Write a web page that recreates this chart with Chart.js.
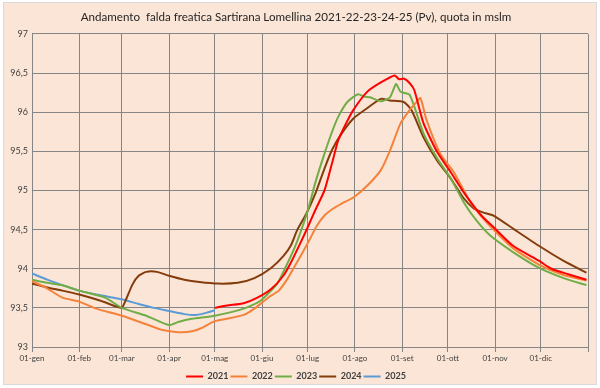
<!DOCTYPE html>
<html>
<head>
<meta charset="utf-8">
<script src="https://cdn.jsdelivr.net/npm/chart.js"></script>
<style>
  html, body { margin: 0; padding: 0; background: #ffffff; }
  #frame {
    position: absolute; left: 3px; top: 2px; width: 592px; height: 381px;
    background: #FBE5D6; border: 1px solid #D9D9D9;
  }
  #wrap { position: absolute; left: 0; top: 0; width: 600px; height: 388px; }
</style>
</head>
<body>
<div id="frame"></div>
<div id="wrap"><canvas id="chart"></canvas></div>
<script>
// month starts (day of year) and their labels
const monthDays = [0, 31, 59, 90, 120, 151, 181, 212, 243, 273, 304, 334, 365];
const monthLabels = ['01-gen', '01-feb', '01-mar', '01-apr', '01-mag', '01-giu',
                     '01-lug', '01-ago', '01-set', '01-ott', '01-nov', '01-dic', ''];
const yTicks = [93, 93.5, 94, 94.5, 95, 95.5, 96, 96.5, 97];

// 2021 (starts in May)
const days2021 = [120, 128, 139, 148, 157, 165, 170, 176, 181, 186, 192, 197, 201, 206, 211, 220, 229, 238, 241, 244, 248, 251, 257, 266, 275, 284, 295, 303, 316, 333, 341, 352, 364];
const vals2021 = [93.50, 93.53, 93.56, 93.63, 93.74, 93.91, 94.08, 94.32, 94.53, 94.75, 95.00, 95.35, 95.64, 95.85, 96.03, 96.26, 96.38, 96.47, 96.42, 96.43, 96.37, 96.28, 95.86, 95.49, 95.23, 94.96, 94.68, 94.53, 94.29, 94.10, 94.00, 93.93, 93.86];

// 2022
const days2022 = [0, 9, 20, 31, 42, 59, 75, 85, 96, 105, 111, 120, 128, 139, 146, 155, 162, 168, 173, 178, 183, 187, 192, 197, 203, 211, 220, 229, 235, 242, 248, 252, 255, 259, 268, 277, 286, 292, 301, 316, 333, 349, 364];
const vals2022 = [93.84, 93.76, 93.63, 93.58, 93.49, 93.40, 93.29, 93.22, 93.19, 93.20, 93.24, 93.33, 93.36, 93.41, 93.49, 93.63, 93.72, 93.88, 94.05, 94.22, 94.40, 94.55, 94.68, 94.76, 94.83, 94.91, 95.06, 95.26, 95.51, 95.86, 96.03, 96.12, 96.18, 95.90, 95.47, 95.23, 94.91, 94.74, 94.54, 94.26, 94.05, 93.92, 93.85];

// 2023
const days2023 = [0, 10, 20, 31, 48, 59, 75, 90, 96, 105, 120, 139, 150, 161, 166, 172, 176, 181, 186, 192, 197, 201, 207, 214, 218, 222, 229, 235, 239, 242, 248, 257, 266, 275, 284, 292, 301, 316, 333, 349, 364];
const vals2023 = [93.86, 93.82, 93.79, 93.72, 93.63, 93.50, 93.40, 93.28, 93.32, 93.36, 93.40, 93.49, 93.59, 93.81, 94.00, 94.25, 94.45, 94.74, 95.10, 95.47, 95.75, 95.94, 96.13, 96.23, 96.20, 96.19, 96.14, 96.19, 96.36, 96.26, 96.22, 95.73, 95.41, 95.15, 94.83, 94.61, 94.42, 94.21, 94.01, 93.88, 93.79];

// 2024
const days2024 = [0, 10, 20, 31, 45, 55, 59, 62, 66, 70, 75, 82, 90, 100, 110, 122, 135, 146, 157, 165, 170, 174, 180, 186, 192, 197, 203, 211, 220, 229, 235, 244, 249, 257, 266, 275, 283, 290, 296, 303, 316, 333, 349, 364];
const vals2024 = [93.81, 93.76, 93.72, 93.67, 93.59, 93.52, 93.50, 93.62, 93.80, 93.91, 93.96, 93.96, 93.91, 93.86, 93.83, 93.81, 93.82, 93.88, 94.01, 94.16, 94.30, 94.49, 94.70, 94.96, 95.28, 95.52, 95.72, 95.92, 96.05, 96.17, 96.15, 96.13, 96.03, 95.68, 95.38, 95.15, 94.91, 94.77, 94.72, 94.68, 94.51, 94.29, 94.10, 93.95];

// 2025 (up to early May)
const days2025 = [0, 10, 20, 31, 45, 59, 70, 80, 90, 100, 108, 115, 120];
const vals2025 = [93.94, 93.86, 93.79, 93.72, 93.66, 93.61, 93.55, 93.50, 93.46, 93.42, 93.41, 93.44, 93.47];

const seriesNames = ['2021', '2022', '2023', '2024', '2025'];
const seriesColors = ['#FF0000', '#F4823A', '#70AD47', '#843C0C', '#5B9BD5'];
const seriesDays = [days2021, days2022, days2023, days2024, days2025];
const seriesVals = [vals2021, vals2022, vals2023, vals2024, vals2025];

const datasets = seriesNames.map((name, i) => ({
    label: name,
    data: seriesDays[i].map((d, j) => ({ x: d, y: seriesVals[i][j] })),
    borderColor: seriesColors[i],
    backgroundColor: seriesColors[i],
    borderWidth: 2,
    pointRadius: 0,
    tension: 0.2,
}));

const gridColor = '#858585';

new Chart(document.getElementById('chart'), {
    type: 'line',
    data: { datasets: datasets },
    options: {
        responsive: true,
        maintainAspectRatio: false,
        animation: false,
        layout: { padding: { left: 4, right: 12, top: 0, bottom: -3 } },
        scales: {
            x: {
                type: 'linear',
                min: 0,
                max: 365,
                afterBuildTicks: (axis) => {
                    axis.ticks = monthDays.map(v => ({ value: v }));
                },
                afterFit: (axis) => { axis.height = 23; },
                ticks: {
                    autoSkip: false,
                    maxRotation: 0,
                    color: '#404040',
                    font: { family: 'Lato', size: 8 },
                    padding: 2,
                    callback: (value) => monthLabels[monthDays.indexOf(value)],
                },
                grid: { color: gridColor, lineWidth: 1, tickLength: 5, tickColor: gridColor },
                border: { color: gridColor },
            },
            y: {
                min: 93,
                max: 97,
                afterBuildTicks: (axis) => {
                    axis.ticks = yTicks.map(v => ({ value: v }));
                },
                afterFit: (axis) => { axis.width = 28; },
                ticks: {
                    color: '#404040',
                    font: { family: 'Lato', size: 9 },
                    padding: 4,
                    callback: (value) => String(value).replace('.', ','),
                },
                grid: { color: gridColor, lineWidth: 1, tickLength: 0 },
                border: { color: gridColor },
            },
        },
        plugins: {
            title: {
                display: true,
                text: 'Andamento  falda freatica Sartirana Lomellina 2021-22-23-24-25 (Pv), quota in mslm',
                color: '#262626',
                font: { family: 'Lato', size: 11.6, weight: 'normal' },
                padding: { top: 10, bottom: 10 },
            },
            legend: {
                position: 'bottom',
                labels: {
                    usePointStyle: true,
                    pointStyle: 'line',
                    pointStyleWidth: 17,
                    color: '#404040',
                    font: { family: 'Lato', size: 9, weight: 'bold' },
                    padding: 2,
                },
            },
            tooltip: { enabled: false },
        },
    },
});
</script>
</body>
</html>
